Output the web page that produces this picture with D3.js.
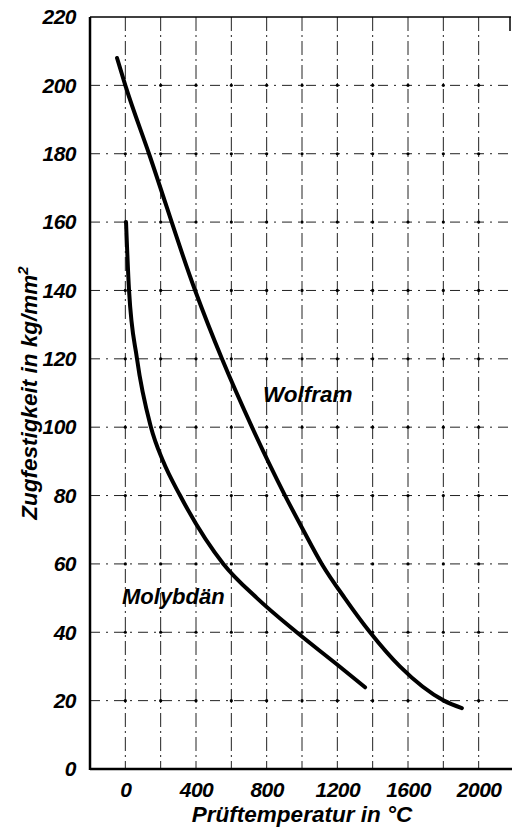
<!DOCTYPE html>
<html>
<head>
<meta charset="utf-8">
<script src="https://cdn.jsdelivr.net/npm/d3@7"></script>
<style>
  html, body { margin: 0; padding: 0; background: #fff; }
  svg { display: block; }
  text { font-family: "Liberation Sans", Arial, sans-serif; font-weight: bold; font-style: italic; fill: #000; }
</style>
</head>
<body>
<svg id="chart" width="512" height="830"></svg>
<script>
// Tensile strength of tungsten and molybdenum vs. test temperature
const xTicks = [0, 400, 800, 1200, 1600, 2000];
const yTicks = [0, 20, 40, 60, 80, 100, 120, 140, 160, 180, 200, 220];
const xGrid = [0, 200, 400, 600, 800, 1000, 1200, 1400, 1600, 1800, 2000];
const yGrid = [20, 40, 60, 80, 100, 120, 140, 160, 180, 200];

const wolframTemp = [-47, 0, 134, 395, 547, 717, 904, 1006, 1112, 1242, 1385, 1554, 1803, 1905];
const wolframStrength = [208, 200, 180, 140, 120, 100, 80, 70, 60, 50, 40, 30, 20, 17.8];

const molybTemp = [4, 21, 66, 145, 214, 310, 555, 745, 970, 1188, 1357];
const molybStrength = [160, 140, 120, 100, 90, 80, 60, 50, 40, 31, 23.9];

const xLabel = "Prüftemperatur in °C";
const yLabel = "Zugfestigkeit in kg/mm";
const seriesNames = ["Wolfram", "Molybdän"];

const svg = d3.select("#chart");
const plotLeft = 90, plotRight = 511, plotTop = 17, plotBottom = 769;

const x = d3.scaleLinear().domain([-200, 2200]).range([plotLeft, 514]);
const y = d3.scaleLinear().domain([0, 220]).range([plotBottom, plotTop]);

// grid: dash-dot lines with dots at the crossings
const grid = svg.append("g").attr("stroke", "#222").attr("stroke-width", 1).attr("fill", "none");
grid.selectAll("line.v").data(xGrid).join("line").attr("class", "v")
  .attr("x1", d => x(d)).attr("x2", d => x(d))
  .attr("y1", plotTop).attr("y2", plotBottom)
  .attr("stroke-dasharray", "14,4,2,4");
grid.selectAll("line.h").data(yGrid).join("line").attr("class", "h")
  .attr("x1", plotLeft).attr("x2", plotRight)
  .attr("y1", d => y(d)).attr("y2", d => y(d))
  .attr("stroke-dasharray", "10,6,2,6");
const crossings = [];
xGrid.forEach(a => yGrid.forEach(b => crossings.push([a, b])));
svg.append("g").selectAll("circle").data(crossings).join("circle")
  .attr("cx", d => x(d[0])).attr("cy", d => y(d[1])).attr("r", 1.6).attr("fill", "#000");

// frame
svg.append("line").attr("x1", plotLeft).attr("x2", plotRight).attr("y1", plotTop).attr("y2", plotTop)
  .attr("stroke", "#000").attr("stroke-width", 1.5);
svg.append("line").attr("x1", plotRight - 1).attr("x2", plotRight - 1).attr("y1", plotTop).attr("y2", plotTop + 14)
  .attr("stroke", "#000").attr("stroke-width", 1.5);
svg.append("line").attr("x1", plotLeft).attr("x2", plotLeft).attr("y1", plotTop).attr("y2", plotBottom + 1)
  .attr("stroke", "#000").attr("stroke-width", 2.5);
svg.append("line").attr("x1", plotLeft).attr("x2", plotRight + 1).attr("y1", plotBottom).attr("y2", plotBottom)
  .attr("stroke", "#000").attr("stroke-width", 2.5);

// axes (labels only)
const fmt = d3.format("d");
const yAxis = svg.append("g").attr("transform", `translate(${plotLeft},0)`)
  .call(d3.axisLeft(y).tickValues(yTicks).tickFormat(fmt).tickSize(0).tickPadding(14));
const xAxis = svg.append("g").attr("transform", `translate(0,${plotBottom})`)
  .call(d3.axisBottom(x).tickValues(xTicks).tickFormat(fmt).tickSize(0).tickPadding(13));
[yAxis, xAxis].forEach(g => {
  g.select(".domain").remove();
  g.selectAll("text").attr("font-size", 21).attr("font-family", "'Liberation Sans', Arial, sans-serif")
    .attr("font-weight", "bold").attr("font-style", "italic").attr("letter-spacing", "-0.5");
});

// curves
const line = d3.line().x(d => x(d[0])).y(d => y(d[1])).curve(d3.curveMonotoneX);
const wolfram = wolframTemp.map((t, i) => [t, wolframStrength[i]]);
const molyb = molybTemp.map((t, i) => [t, molybStrength[i]]);
[wolfram, molyb].forEach(s => {
  svg.append("path").datum(s).attr("d", line)
    .attr("fill", "none").attr("stroke", "#000").attr("stroke-width", 4)
    .attr("stroke-linecap", "round").attr("stroke-linejoin", "round");
});

// series labels
svg.append("text").attr("x", 263).attr("y", 402).attr("font-size", 22.5).text(seriesNames[0]);
svg.append("text").attr("x", 122).attr("y", 604).attr("font-size", 22).text(seriesNames[1]);

// axis titles
svg.append("text").attr("x", 302).attr("y", 822).attr("text-anchor", "middle")
  .attr("font-size", 22.5).text(xLabel);
const yt = svg.append("text").attr("transform", "translate(37,393) rotate(-90)")
  .attr("text-anchor", "middle").attr("font-size", 22.5);
yt.append("tspan").text(yLabel);
yt.append("tspan").attr("dy", -9).attr("font-size", 15).text("2");
</script>
</body>
</html>
